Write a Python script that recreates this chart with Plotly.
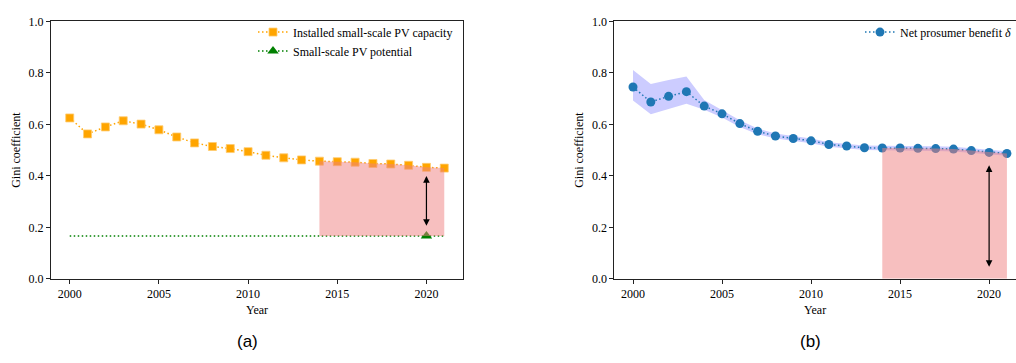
import plotly.graph_objects as go

years = list(range(2000, 2022))
installed = [0.625, 0.563, 0.590, 0.614, 0.601, 0.579, 0.551, 0.528, 0.514, 0.506, 0.494,
             0.480, 0.470, 0.462, 0.457, 0.455, 0.453, 0.448, 0.446, 0.441, 0.433, 0.430]
potential = 0.166
net_benefit = [0.745, 0.687, 0.709, 0.727, 0.671, 0.641, 0.603, 0.573, 0.555, 0.545, 0.536,
               0.522, 0.516, 0.509, 0.508, 0.508, 0.507, 0.506, 0.504, 0.498, 0.491, 0.487]
net_upper = [0.811, 0.757, 0.772, 0.786, 0.695, 0.657, 0.616, 0.584, 0.565, 0.555, 0.545,
             0.531, 0.525, 0.518, 0.517, 0.517, 0.516, 0.515, 0.513, 0.507, 0.500, 0.496]
net_lower = [0.693, 0.639, 0.660, 0.680, 0.657, 0.627, 0.590, 0.562, 0.545, 0.535, 0.527,
             0.513, 0.507, 0.500, 0.499, 0.499, 0.498, 0.497, 0.495, 0.489, 0.482, 0.478]
gap_start = 2014
arrow_year = 2020
yticks = [0.0, 0.2, 0.4, 0.6, 0.8, 1.0]
xticks = [2000, 2005, 2010, 2015, 2020]

ORANGE = "#FFA500"
GREEN = "#008000"
BLUE = "#1f77b4"
PINK = "rgba(240,128,128,0.5)"
BAND = "rgba(0,0,255,0.2)"
SERIF = "Liberation Serif, Times New Roman, serif"
FS = 12
DOT = "1.5px,2.5px"

i0 = years.index(gap_start)
ia = years.index(arrow_year)

fig = go.Figure()

# ---------- panel (a) ----------
fig.add_trace(go.Scatter(
    x=years, y=[potential] * len(years), mode="lines",
    line=dict(color=GREEN, width=1.5, dash=DOT), showlegend=False,
    xaxis="x", yaxis="y", hoverinfo="skip"))
fig.add_trace(go.Scatter(
    x=years, y=installed, mode="lines+markers", name="Installed small-scale PV capacity",
    line=dict(color=ORANGE, width=1.5, dash=DOT),
    marker=dict(symbol="square", size=8, color=ORANGE, line=dict(color="#FFCC70", width=0.8)),
    xaxis="x", yaxis="y", legend="legend"))
fig.add_trace(go.Scatter(
    x=[arrow_year], y=[potential], mode="lines+markers", name="Small-scale PV potential",
    line=dict(color=GREEN, width=1.5, dash=DOT),
    marker=dict(symbol="triangle-up", size=10, color=GREEN),
    xaxis="x", yaxis="y", legend="legend"))
gx = years[i0:]
fig.add_trace(go.Scatter(
    x=gx + gx[::-1], y=installed[i0:] + [potential] * len(gx),
    mode="lines", fill="toself", fillcolor=PINK, line=dict(width=0),
    showlegend=False, xaxis="x", yaxis="y", hoverinfo="skip"))

# ---------- panel (b) ----------
fig.add_trace(go.Scatter(
    x=years, y=net_upper, mode="lines", line=dict(width=0, color=BAND),
    showlegend=False, xaxis="x2", yaxis="y2", hoverinfo="skip"))
fig.add_trace(go.Scatter(
    x=years, y=net_lower, mode="lines", line=dict(width=0, color=BAND),
    fill="tonexty", fillcolor=BAND,
    showlegend=False, xaxis="x2", yaxis="y2", hoverinfo="skip"))
fig.add_trace(go.Scatter(
    x=years, y=net_benefit, mode="lines+markers", name="Net prosumer benefit <i>δ</i>",
    line=dict(color=BLUE, width=1.5, dash=DOT),
    marker=dict(symbol="circle", size=9, color=BLUE),
    xaxis="x2", yaxis="y2", legend="legend2"))
fig.add_trace(go.Scatter(
    x=gx + gx[::-1], y=net_benefit[i0:] + [0.0] * len(gx),
    mode="lines", fill="toself", fillcolor=PINK, line=dict(width=0),
    showlegend=False, xaxis="x2", yaxis="y2", hoverinfo="skip"))

W, H = 1016, 363
top_px, bot_px = 15, 282.7
ydom = [(H - bot_px) / H, (H - top_px) / H]

axis_common = dict(
    showline=True, linecolor="#222", linewidth=1, ticks="outside", ticklen=4,
    tickwidth=1, tickcolor="#222", showgrid=False, zeroline=False,
    tickfont=dict(family=SERIF, size=FS, color="black"),
)

fig.update_layout(
    width=W, height=H,
    margin=dict(l=0, r=0, t=0, b=0),
    paper_bgcolor="white", plot_bgcolor="white",
    font=dict(family=SERIF, size=FS, color="black"),
    xaxis=dict(domain=[51 / W, 463 / W], range=[1998.95, 2022.05], tickvals=xticks,
               mirror=True, anchor="y",
               title=dict(text="Year", font=dict(family=SERIF, size=FS), standoff=5),
               **axis_common),
    yaxis=dict(domain=ydom, range=[0, 1], tickvals=yticks, tickformat=".1f",
               mirror=True, anchor="x",
               title=dict(text="Gini coefficient", font=dict(family=SERIF, size=FS), standoff=5),
               **axis_common),
    xaxis2=dict(domain=[614.3 / W, 1.0], range=[1998.95, 2021.51], tickvals=xticks,
                mirror=True, anchor="y2",
                title=dict(text="Year", font=dict(family=SERIF, size=FS), standoff=5),
                **axis_common),
    yaxis2=dict(domain=ydom, range=[0, 1], tickvals=yticks, tickformat=".1f",
                mirror=False, anchor="x2",
                title=dict(text="Gini coefficient", font=dict(family=SERIF, size=FS), standoff=5),
                **axis_common),
    legend=dict(x=458 / W, xanchor="right", y=(H - 11) / H, yanchor="top",
                bgcolor="rgba(0,0,0,0)", borderwidth=0, traceorder="normal",
                font=dict(family=SERIF, size=FS), tracegroupgap=0),
    legend2=dict(x=1.0, xanchor="right", y=(H - 11) / H, yanchor="top",
                 bgcolor="rgba(0,0,0,0)", borderwidth=0, traceorder="normal",
                 font=dict(family=SERIF, size=FS)),
)

arrow_common = dict(text="", showarrow=True, arrowside="end+start", arrowhead=2,
                    arrowsize=1.1, arrowwidth=1.2, arrowcolor="black",
                    standoff=0, startstandoff=0)
fig.add_annotation(x=arrow_year, y=installed[ia] - 0.034, ax=arrow_year, ay=potential + 0.034,
                   xref="x", yref="y", axref="x", ayref="y", **arrow_common)
fig.add_annotation(x=arrow_year, y=net_benefit[ia] - 0.05, ax=arrow_year, ay=0.041,
                   xref="x2", yref="y2", axref="x2", ayref="y2", **arrow_common)

for label, px in [("(a)", 247), ("(b)", 810)]:
    fig.add_annotation(text=label, x=px / W, y=(H - 348) / H, xref="paper", yref="paper",
                       xanchor="center", yanchor="middle", showarrow=False,
                       font=dict(family="Liberation Sans, Arial, sans-serif", size=17, color="black"))

fig.write_html("out.html")
